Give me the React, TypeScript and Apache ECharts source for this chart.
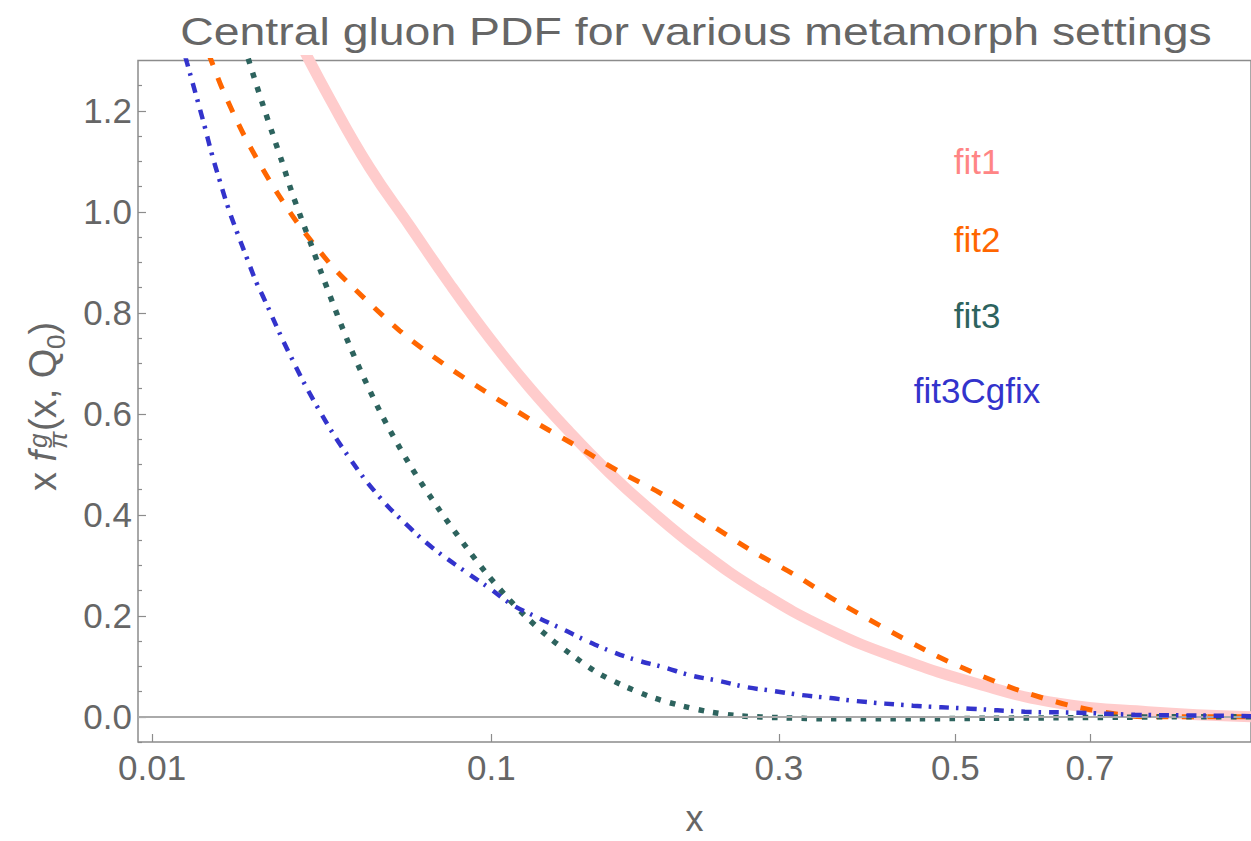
import React, { useEffect, useRef } from "react";
import * as echarts from "echarts";

// ---- axis scale: the x axis of the reference is a power scale (x^0.35) ----
const SCALE_POWER = 0.35;
const X_MIN = 0.0086;
const X_MAX = 1;
const Y_MIN = -0.05;
const Y_MAX = 1.3;

const TITLE = "Central gluon PDF for various metamorph settings";

const xTickValues = [0.01, 0.1, 0.3, 0.5, 0.7];
const xTickLabels = ["0.01", "0.1", "0.3", "0.5", "0.7"];
const yMajorTicks = [0, 0.2, 0.4, 0.6, 0.8, 1.0, 1.2];
const yTickLabels = ["0.0", "0.2", "0.4", "0.6", "0.8", "1.0", "1.2"];
const yMinorTicks = [
  -0.05, 0.05, 0.1, 0.15, 0.25, 0.3, 0.35, 0.45, 0.5, 0.55, 0.65, 0.7, 0.75,
  0.85, 0.9, 0.95, 1.05, 1.1, 1.15, 1.25,
];

const seriesNames = ["fit1", "fit2", "fit3", "fit3Cgfix"];

// fit1 (thick pink)
const fit1X = [0.0329, 0.0417, 0.0531, 0.0664, 0.0817, 0.099, 0.1186, 0.1406, 0.1651, 0.1922, 0.2299, 0.2812, 0.3496, 0.4281, 0.5309, 0.6487, 0.8, 1.0];
const fit1Y = [1.36, 1.225, 1.088, 0.973, 0.858, 0.751, 0.653, 0.565, 0.484, 0.412, 0.331, 0.249, 0.173, 0.116, 0.065, 0.027, 0.01, 0.0];

// fit2 (orange dashed)
const fit2X = [0.0158, 0.0176, 0.0193, 0.023, 0.0278, 0.0336, 0.0417, 0.0463, 0.0629, 0.0796, 0.0977, 0.1197, 0.1436, 0.1716, 0.2017, 0.2748, 0.3162, 0.3602, 0.465, 0.527, 0.592, 0.669, 0.752, 0.8, 0.952, 1.0];
const fit2Y = [1.36, 1.296, 1.241, 1.149, 1.061, 0.98, 0.898, 0.863, 0.765, 0.698, 0.643, 0.588, 0.539, 0.486, 0.441, 0.329, 0.28, 0.227, 0.129, 0.086, 0.051, 0.022, 0.004, 0.0, 0.0, 0.0];

// fit3 (teal dotted)
const fit3X = [0.0221, 0.0239, 0.0264, 0.0284, 0.0303, 0.0324, 0.0347, 0.0371, 0.0396, 0.0472, 0.0563, 0.0664, 0.0776, 0.0892, 0.0977, 0.107, 0.117, 0.1293, 0.1424, 0.1574, 0.175, 0.194, 0.2158, 0.238, 0.263, 0.304, 0.35, 0.45, 0.55, 0.65, 0.75, 0.85, 1.0];
const fit3Y = [1.36, 1.294, 1.212, 1.153, 1.1, 1.041, 0.986, 0.933, 0.878, 0.735, 0.606, 0.5, 0.41, 0.333, 0.284, 0.239, 0.198, 0.157, 0.122, 0.088, 0.061, 0.039, 0.022, 0.01, 0.002, -0.002, -0.004, -0.004, -0.003, -0.002, -0.001, 0.0, 0.0];

// fit3Cgfix (blue dot-dash)
const fit4X = [0.01295, 0.01408, 0.01556, 0.01656, 0.01759, 0.01881, 0.0201, 0.0216, 0.0234, 0.0252, 0.0264, 0.032, 0.0391, 0.0472, 0.0563, 0.0664, 0.0749, 0.0888, 0.099, 0.11, 0.1223, 0.136, 0.1507, 0.167, 0.1838, 0.203, 0.2235, 0.2463, 0.2694, 0.2951, 0.322, 0.352, 0.38, 0.446, 0.52, 0.598, 0.68, 0.777, 0.938, 1.0];
const fit4Y = [1.36, 1.296, 1.218, 1.167, 1.114, 1.061, 1.01, 0.961, 0.908, 0.859, 0.833, 0.718, 0.606, 0.512, 0.435, 0.375, 0.335, 0.286, 0.255, 0.222, 0.198, 0.175, 0.151, 0.129, 0.112, 0.098, 0.082, 0.071, 0.059, 0.051, 0.043, 0.037, 0.031, 0.022, 0.016, 0.01, 0.008, 0.004, 0.002, 0.001];

const FONT = "'Liberation Sans', Arial, Helvetica, sans-serif";
const GRAY = "#666666";
const FRAME = "#8c8c8c";

const tf = (x: number) => Math.pow(x, SCALE_POWER);

export default function App() {
  const ref = useRef<HTMLDivElement>(null);

  useEffect(() => {
    document.body.style.margin = "0";
    const chart = echarts.init(ref.current as HTMLDivElement, null, { renderer: "svg" });

    const toData = (xs: number[], ys: number[]) => xs.map((x, i) => [tf(x), ys[i]]);
    const xLabel = (v: number) => {
      let best = 0;
      xTickValues.forEach((t, i) => {
        if (Math.abs(tf(t) - v) < Math.abs(tf(xTickValues[best]) - v)) best = i;
      });
      return xTickLabels[best];
    };
    const yLabel = (v: number) => {
      let best = 0;
      yMajorTicks.forEach((t, i) => {
        if (Math.abs(t - v) < Math.abs(yMajorTicks[best] - v)) best = i;
      });
      return yTickLabels[best];
    };

    const txt = (text: string, x: number, y: number, size: number, fill: string, extra: any = {}) => ({
      type: "text",
      x,
      y,
      style: {
        text,
        fontSize: size,
        fontFamily: FONT,
        fill,
        align: "center",
        textAlign: "center",
        verticalAlign: "middle",
        textVerticalAlign: "middle",
        ...extra,
      },
    });
    const ltxt = (text: string, x: number, y: number, size: number, italic = false) => ({
      type: "text",
      x,
      y,
      style: {
        text,
        fontSize: size,
        fontFamily: FONT,
        fontStyle: italic ? "italic" : "normal",
        fill: GRAY,
        align: "left",
        textAlign: "left",
        verticalAlign: "middle",
        textVerticalAlign: "middle",
      },
    });

    const legendColors = ["#FF8585", "#FF6600", "#2D635E", "#3333CC"];
    const legendY = [161, 239, 315, 390];

    const option: any = {
      animation: false,
      backgroundColor: "#ffffff",
      grid: {
        left: 138,
        top: 60.5,
        width: 1115.6,
        height: 688,
        show: true,
        borderColor: FRAME,
        borderWidth: 1.5,
        backgroundColor: "transparent",
      },
      xAxis: {
        type: "value",
        min: tf(X_MIN),
        max: tf(X_MAX),
        axisLine: { show: false, onZero: false },
        splitLine: { show: false },
        axisTick: {
          show: true,
          inside: true,
          length: 8,
          customValues: xTickValues.map(tf),
          lineStyle: { color: FRAME, width: 1.2 },
        },
        axisLabel: {
          customValues: xTickValues.map(tf),
          formatter: xLabel,
          color: GRAY,
          fontSize: 35,
          fontFamily: FONT,
          margin: 8,
        },
        name: "x",
        nameLocation: "middle",
        nameGap: 58,
        nameTextStyle: { color: GRAY, fontSize: 36, fontFamily: FONT },
      },
      yAxis: [
        {
          type: "value",
          min: Y_MIN,
          max: Y_MAX,
          axisLine: { show: false, onZero: false },
          splitLine: { show: false },
          axisTick: {
            show: true,
            inside: true,
            length: 8,
            customValues: yMajorTicks,
            lineStyle: { color: FRAME, width: 1.2 },
          },
          axisLabel: {
            customValues: yMajorTicks,
            formatter: yLabel,
            color: GRAY,
            fontSize: 35,
            fontFamily: FONT,
            margin: 6,
          },
        },
        {
          type: "value",
          min: Y_MIN,
          max: Y_MAX,
          position: "left",
          axisLine: { show: false, onZero: false },
          splitLine: { show: false },
          axisLabel: { show: false },
          axisTick: {
            show: true,
            inside: true,
            length: 4,
            customValues: yMinorTicks,
            lineStyle: { color: FRAME, width: 1.2 },
          },
        },
      ],
      series: [
        {
          type: "line",
          name: seriesNames[0],
          data: toData(fit1X, fit1Y),
          symbol: "none",
          smooth: 0.45,
          z: 2,
          lineStyle: { color: "#FFCCCC", width: 11 },
          markLine: {
            silent: true,
            symbol: "none",
            label: { show: false },
            lineStyle: { color: "#aaaaaa", width: 2, type: "solid" },
            data: [{ yAxis: 0 }],
          },
        },
        {
          type: "line",
          name: seriesNames[1],
          data: toData(fit2X, fit2Y),
          symbol: "none",
          smooth: 0.3,
          z: 3,
          lineStyle: { color: "#FF6600", width: 5, type: [12, 13.5] },
        },
        {
          type: "line",
          name: seriesNames[2],
          data: toData(fit3X, fit3Y),
          symbol: "none",
          smooth: 0.3,
          z: 4,
          lineStyle: { color: "#2D635E", width: 5.5, type: [5.5, 9.3] },
        },
        {
          type: "line",
          name: seriesNames[3],
          data: toData(fit4X, fit4Y),
          symbol: "none",
          smooth: 0.45,
          z: 5,
          lineStyle: { color: "#3333CC", width: 4.5, type: [10, 7, 2.5, 8] },
        },
      ],
      graphic: [
        { ...txt(TITLE, 696, 31, 39, GRAY), scaleX: 1.19 },
        ...seriesNames.map((n, i) => txt(n, 977, legendY[i], 35, legendColors[i])),
        {
          type: "group",
          x: 56,
          y: 406,
          rotation: Math.PI / 2,
          children: [
            ltxt("x", -85, -13.2, 38),
            ltxt("f", -55.4, -13.2, 38, true),
            ltxt("g", -42, -18, 26, true),
            ltxt("π", -43, 2, 26, true),
            ltxt("(x, Q", -25, -13.2, 38),
            ltxt("0", 57, 0, 26),
            ltxt(")", 71.5, -13.2, 38),
          ],
        },
      ],
    };

    chart.setOption(option);
    return () => chart.dispose();
  }, []);

  return <div ref={ref} style={{ width: 1251, height: 841 }} />;
}
